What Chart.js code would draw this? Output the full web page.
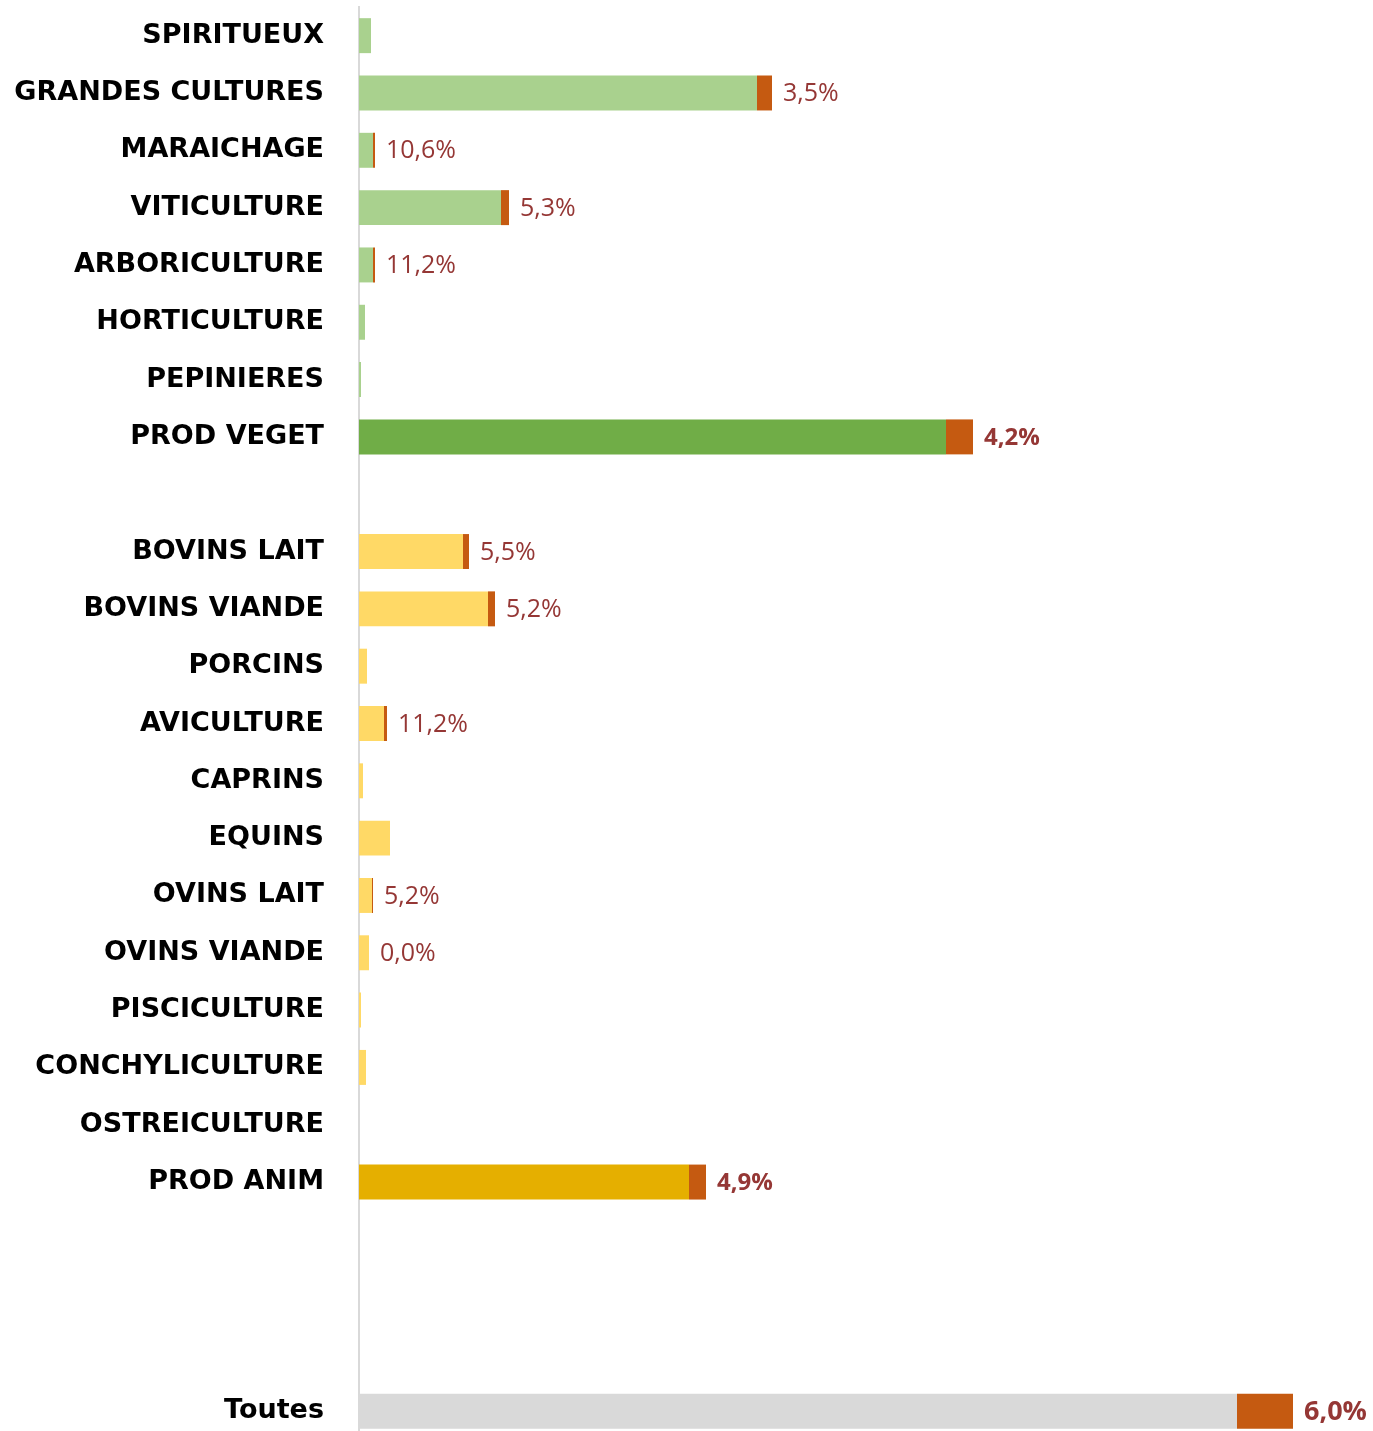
<!DOCTYPE html>
<html>
<head>
<meta charset="utf-8">
<script src="https://cdn.jsdelivr.net/npm/chart.js@4"></script>
<style>
  body { margin: 0; background: #fff; }
  #wrap { width: 1373px; height: 1431px; overflow: hidden; }
</style>
</head>
<body>
<div id="wrap"><canvas id="chart" width="1373" height="1440"></canvas></div>
<script>
// filières (lignes vides = séparateurs)
const categories = ['SPIRITUEUX', 'GRANDES CULTURES', 'MARAICHAGE', 'VITICULTURE', 'ARBORICULTURE',
  'HORTICULTURE', 'PEPINIERES', 'PROD VEGET', '', 'BOVINS LAIT', 'BOVINS VIANDE', 'PORCINS',
  'AVICULTURE', 'CAPRINS', 'EQUINS', 'OVINS LAIT', 'OVINS VIANDE', 'PISCICULTURE',
  'CONCHYLICULTURE', 'OSTREICULTURE', 'PROD ANIM', '', '', '', 'Toutes'];

// partie principale de la barre
const baseValues = [12, 398, 14, 142, 14, 6, 2, 587, null, 104, 129, 8,
  25, 4, 31, 13, 10, 2, 7, 0, 330, null, null, null, 878];

// part en orange
const shareValues = [0, 15, 2, 8, 2, 0, 0, 27, null, 6, 7, 0,
  3, 0, 0, 1, 0, 0, 0, 0, 17, null, null, null, 56];

// étiquettes affichées
const pctLabels = ['', '3,5%', '10,6%', '5,3%', '11,2%', '', '', '4,2%', '', '5,5%', '5,2%', '',
  '11,2%', '', '', '5,2%', '0,0%', '', '', '', '4,9%', '', '', '', '6,0%'];

const totalRows = ['PROD VEGET', 'PROD ANIM', 'Toutes'];

function baseColor(i) {
  const name = categories[i];
  if (name === 'Toutes') return '#d9d9d9';
  if (name === 'PROD VEGET') return '#70ad47';
  if (name === 'PROD ANIM') return '#e5af00';
  return i < 8 ? '#a9d18e' : '#ffd966';
}

const labelPlugin = {
  id: 'pctLabels',
  afterDatasetsDraw(chart) {
    const ctx = chart.ctx;
    const meta = chart.getDatasetMeta(1);
    ctx.save();
    ctx.fillStyle = '#953735';
    ctx.textBaseline = 'middle';
    ctx.textAlign = 'left';
    pctLabels.forEach((txt, i) => {
      if (!txt) return;
      const bar = meta.data[i];
      const name = categories[i];
      let font = '25px "Open Sans"';
      if (name === 'Toutes') font = 'bold 27px "Open Sans"';
      else if (totalRows.includes(name)) font = 'bold 24px "Open Sans"';
      ctx.font = font;
      ctx.fillText(txt, bar.x + 11, bar.y + 1);
    });
    ctx.restore();
  }
};

const ctx = document.getElementById('chart').getContext('2d');
new Chart(ctx, {
  type: 'bar',
  data: {
    labels: categories,
    datasets: [
      {
        data: baseValues,
        backgroundColor: ctx2 => baseColor(ctx2.dataIndex),
        borderWidth: 0,
        barPercentage: 0.61,
        categoryPercentage: 1
      },
      {
        data: shareValues,
        backgroundColor: '#c55a11',
        borderWidth: 0,
        barPercentage: 0.61,
        categoryPercentage: 1
      }
    ]
  },
  options: {
    indexAxis: 'y',
    responsive: false,
    animation: false,
    layout: { padding: { top: 7, right: 0, bottom: 0, left: 0 } },
    plugins: {
      legend: { display: false },
      tooltip: { enabled: false }
    },
    scales: {
      x: {
        stacked: true,
        display: false,
        min: 0,
        max: 1014
      },
      y: {
        stacked: true,
        afterFit: function(scale) {
          scale.width = 359;
          scale.paddingTop = 0;
          scale.paddingBottom = 0;
        },
        grid: { display: true, drawOnChartArea: false, drawTicks: true, tickLength: 35, color: 'rgba(0,0,0,0)' },
        border: { display: true, color: '#d9d9d9', width: 2 },
        ticks: {
          autoSkip: false,
          padding: 0,
          color: '#000',
          font: { family: '"DejaVu Sans"', weight: 'bold', size: 27, lineHeight: 0.5 }
        }
      }
    }
  },
  plugins: [labelPlugin]
});
</script>
</body>
</html>
